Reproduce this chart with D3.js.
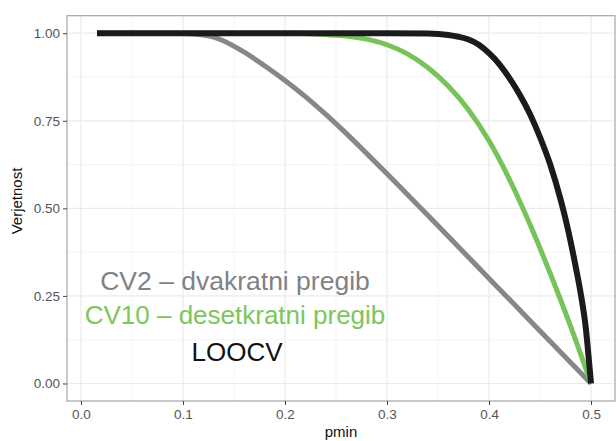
<!DOCTYPE html>
<html>
<head>
<meta charset="utf-8">
<script src="https://cdn.jsdelivr.net/npm/d3@7"></script>
<style>
  html, body { margin: 0; padding: 0; background: #fff; }
  svg { display: block; font-family: "Liberation Sans", Arial, Helvetica, sans-serif; }
</style>
</head>
<body>
<svg id="chart" width="616" height="441"></svg>
<script>
// ---- data ----
const xTicks = [0.0, 0.1, 0.2, 0.3, 0.4, 0.5];
const yTicks = [0.00, 0.25, 0.50, 0.75, 1.00];
const xMinor = [0.05, 0.15, 0.25, 0.35, 0.45];
const yMinor = [0.125, 0.375, 0.625, 0.875];

// CV2 – dvakratni pregib
const cv2P = [0.0157, 0.05, 0.09, 0.10, 0.11, 0.12, 0.13, 0.14, 0.16, 0.18, 0.20, 0.22, 0.24, 0.26, 0.28, 0.30, 0.35, 0.40, 0.45, 0.50];
const cv2V = [1, 1, 1, 0.9995, 0.998, 0.995, 0.989, 0.978, 0.946, 0.907, 0.865, 0.819, 0.768, 0.714, 0.657, 0.599, 0.45, 0.30, 0.15, 0];

// CV10 – desetkratni pregib
const cv10P = [0.0157, 0.10, 0.20, 0.22, 0.24, 0.26, 0.28, 0.30, 0.32, 0.34, 0.36, 0.38, 0.40, 0.42, 0.44, 0.46, 0.48, 0.50];
const cv10V = [1, 1, 1, 0.999, 0.996, 0.992, 0.983, 0.967, 0.941, 0.902, 0.849, 0.781, 0.693, 0.583, 0.455, 0.314, 0.163, 0];

// LOOCV
const looP = [0.0157, 0.10, 0.20, 0.30, 0.34, 0.36, 0.37, 0.38, 0.39, 0.40, 0.41, 0.42, 0.43, 0.44, 0.45, 0.46, 0.47, 0.475, 0.48, 0.485, 0.49, 0.495, 0.4975, 0.50];
const looV = [1, 1, 1, 1, 0.999, 0.995, 0.99, 0.982, 0.967, 0.943, 0.912, 0.872, 0.825, 0.77, 0.703, 0.625, 0.527, 0.47, 0.405, 0.333, 0.255, 0.155, 0.08, 0];

const labels = ["CV2 \u2013 dvakratni pregib", "CV10 \u2013 desetkratni pregib", "LOOCV"];
const labelX = [0.151, 0.151, 0.153];
const labelY = [0.266, 0.171, 0.064];

const xTitle = "pmin";
const yTitle = "Verjetnost";

// ---- layout ----
const svg = d3.select("#chart");
const L = 67, R = 615, T = 15.7, B = 401;

const x = d3.scaleLinear().domain([-0.0137, 0.5235]).range([L, R]);
const y = d3.scaleLinear().domain([-0.05, 1.05]).range([B, T]);

// grid
const grid = svg.append("g");
grid.selectAll("line.xminor").data(xMinor).join("line")
  .attr("x1", d => x(d)).attr("x2", d => x(d)).attr("y1", T).attr("y2", B)
  .attr("stroke", "#f3f3f3").attr("stroke-width", 0.8);
grid.selectAll("line.yminor").data(yMinor).join("line")
  .attr("y1", d => y(d)).attr("y2", d => y(d)).attr("x1", L).attr("x2", R)
  .attr("stroke", "#f3f3f3").attr("stroke-width", 0.8);
grid.selectAll("line.xmajor").data(xTicks).join("line")
  .attr("x1", d => x(d)).attr("x2", d => x(d)).attr("y1", T).attr("y2", B)
  .attr("stroke", "#ebebeb").attr("stroke-width", 1.2);
grid.selectAll("line.ymajor").data(yTicks).join("line")
  .attr("y1", d => y(d)).attr("y2", d => y(d)).attr("x1", L).attr("x2", R)
  .attr("stroke", "#ebebeb").attr("stroke-width", 1.2);

// lines
const line = d3.line().x(d => x(d[0])).y(d => y(d[1])).curve(d3.curveMonotoneX);
const series = [
  {p: cv2P, v: cv2V, color: "#86878a", w: 5},
  {p: cv10P, v: cv10V, color: "#78c25a", w: 5},
  {p: looP, v: looV, color: "#1b1b1b", w: 6}
];
series.forEach(s => {
  svg.append("path")
    .datum(d3.zip(s.p, s.v))
    .attr("d", line)
    .attr("fill", "none")
    .attr("stroke", s.color)
    .attr("stroke-width", s.w)
    .attr("stroke-linejoin", "round")
    .attr("stroke-linecap", "butt");
});

// annotations
const labelColors = ["#808285", "#7cc65c", "#111111"];
svg.selectAll("text.lab").data(labels).join("text")
  .attr("x", (d, i) => x(labelX[i]))
  .attr("y", (d, i) => y(labelY[i]))
  .attr("text-anchor", "middle")
  .attr("font-size", (d, i) => i === 0 ? 26.5 : 26)
  .attr("fill", (d, i) => labelColors[i])
  .text(d => d);

// panel border
svg.append("rect").attr("x", L).attr("y", T).attr("width", R - L).attr("height", B - T)
  .attr("fill", "none").attr("stroke", "#a6a6a6").attr("stroke-width", 1.2);

// axes
const xAxis = svg.append("g").attr("transform", `translate(0,${B})`)
  .call(d3.axisBottom(x).tickValues(xTicks).tickFormat(d3.format(".1f")).tickSize(4).tickPadding(4));
const yAxis = svg.append("g").attr("transform", `translate(${L},0)`)
  .call(d3.axisLeft(y).tickValues(yTicks).tickFormat(d3.format(".2f")).tickSize(4).tickPadding(3));
[xAxis, yAxis].forEach(a => {
  a.select(".domain").remove();
  a.selectAll(".tick line").attr("stroke", "#444").attr("stroke-width", 1);
  a.selectAll(".tick text").attr("fill", "#555").attr("font-size", 13.5)
    .attr("font-family", "'Liberation Sans', Arial, sans-serif");
});

// titles
svg.append("text").attr("x", (L + R) / 2).attr("y", 437).attr("text-anchor", "middle")
  .attr("font-size", 15).attr("fill", "#111").text(xTitle);
svg.append("text").attr("transform", `translate(22,201) rotate(-90)`)
  .attr("text-anchor", "middle").attr("font-size", 15).attr("fill", "#111").text(yTitle);
</script>
</body>
</html>
